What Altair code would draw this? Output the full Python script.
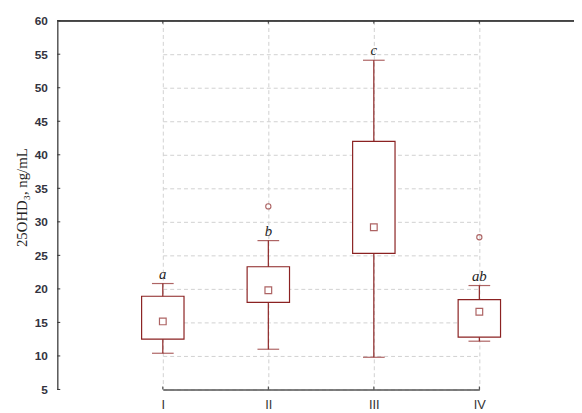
import altair as alt
import pandas as pd

groups = ["I", "II", "III", "IV"]
whisker_low = [10.4, 11.0, 9.8, 12.2]
q1 = [12.5, 18.0, 25.3, 12.8]
center = [15.15, 19.8, 29.2, 16.6]
q3 = [18.9, 23.3, 42.0, 18.4]
whisker_high = [20.8, 27.2, 54.1, 20.5]
letters = ["a", "b", "c", "ab"]
outlier_groups = ["II", "IV"]
outlier_values = [32.3, 27.7]

y_ticks = list(range(5, 61, 5))

box_df = pd.DataFrame({
    "group": groups, "low": whisker_low, "q1": q1, "mid": center,
    "q3": q3, "high": whisker_high, "letter": letters,
})
out_df = pd.DataFrame({"group": outlier_groups, "value": outlier_values})
ytick_df = pd.DataFrame({"v": y_ticks})

RED = "#8B2222"
AX = "#555555"
W, H = 524, 374

xscale = alt.Scale(type="point", range=[107, 428], padding=0)
xenc = alt.X(
    "group:N", sort=groups, title=None, scale=xscale,
    axis=alt.Axis(
        grid=True, gridDash=[4, 3], gridColor="#d0d0d0",
        domainColor=AX, domainWidth=1.5, ticks=False,
        labelFont="Liberation Sans", labelFontSize=13, labelColor="#333333",
        labelPadding=9, labelAngle=0, labelBaseline="top",
    ),
)
yscale = alt.Scale(domain=[5, 60], nice=False, zero=False)
yaxis = alt.Axis(
    values=y_ticks, tickCount=12, grid=True, gridDash=[4, 3], gridColor="#d0d0d0",
    domainColor=AX, domainWidth=1.5, ticks=False,
    labelOverlap=False, labelFlush=False,
    labelFont="Liberation Sans", labelFontSize=12, labelFontWeight="bold",
    labelColor="#333340", labelPadding=10,
    title="25OHD₃, ng/mL", titleFont="Liberation Serif", titleFontSize=15,
    titleFontWeight="normal", titleColor="#222222", titleAngle=-90,
    titleX=-36, titleY=179, titleAlign="center", titleBaseline="middle",
)

base = alt.Chart(box_df)
gx = alt.X("group:N", sort=groups)

whisk = base.mark_rule(color=RED, strokeWidth=1.2).encode(
    x=xenc, y=alt.Y("low:Q", scale=yscale, axis=yaxis), y2="high:Q"
)
box = base.mark_bar(size=43, fill="white", stroke=RED, strokeWidth=1.2).encode(
    x=gx, y="q1:Q", y2="q3:Q"
)
cap_lo = base.mark_tick(size=22, thickness=1.2, color=RED, orient="horizontal").encode(
    x=gx, y="low:Q"
)
cap_hi = base.mark_tick(size=22, thickness=1.2, color=RED, orient="horizontal").encode(
    x=gx, y="high:Q"
)
mid = base.mark_square(size=46, filled=False, color=RED, strokeWidth=1.2).encode(
    x=gx, y="mid:Q"
)
outl = alt.Chart(out_df).mark_point(shape="circle", size=28, filled=False, color=RED, strokeWidth=1.1).encode(
    x=gx, y="value:Q"
)
lab = base.mark_text(font="Liberation Serif", fontStyle="italic", fontSize=15, color="#222222",
                     dy=-5, baseline="alphabetic").encode(
    x=gx, y="high:Q", text="letter:N"
)
top = base.mark_rule(color="#444444", strokeWidth=1.5).encode(
    x=alt.value(0), x2=alt.value(W), y=alt.value(0)
)
xt_bottom = base.mark_rule(color="#333333", strokeWidth=1).encode(
    x=gx, y=alt.value(H - 3), y2=alt.value(H)
)
xt_top = base.mark_rule(color="#333333", strokeWidth=1).encode(
    x=gx, y=alt.value(0), y2=alt.value(3)
)
yt = alt.Chart(ytick_df).mark_rule(color="#333333", strokeWidth=1).encode(
    y="v:Q", x=alt.value(0), x2=alt.value(3)
)

chart = alt.layer(whisk, box, cap_lo, cap_hi, mid, outl, lab, top, xt_bottom, xt_top, yt).properties(
    width=W, height=H,
    autosize=alt.AutoSizeParams(type="none"),
    padding={"left": 50, "top": 10, "right": 0, "bottom": 21},
    background="white",
).configure_view(stroke=None)

chart.save("out.html", embed_options={"renderer": "svg", "actions": False})
